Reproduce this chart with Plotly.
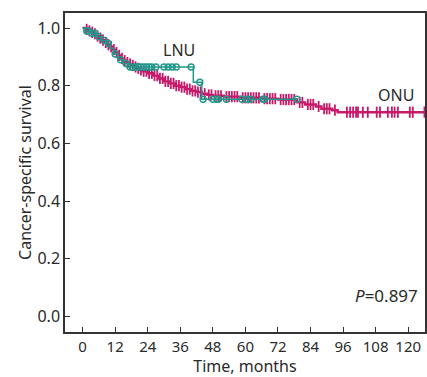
import numpy as np
import plotly.graph_objects as go

# ONU (open nephroureterectomy) step function: event times (months) and survival
onu_times = [0, 1, 2, 3, 4, 5, 6, 7, 8, 9, 10, 11, 12, 13, 14, 15, 16, 17, 18, 19, 20, 21, 22,
             24, 26, 28, 30, 32, 34, 36, 38, 40, 42, 44, 46, 48, 52, 58, 66, 72, 79, 82, 86, 88, 92, 94]
onu_surv = [1.0, 0.995, 0.99, 0.985, 0.98, 0.972, 0.965, 0.958, 0.95, 0.942, 0.935, 0.925, 0.915,
            0.905, 0.895, 0.887, 0.88, 0.875, 0.87, 0.865, 0.86, 0.855, 0.85,
            0.843, 0.835, 0.825, 0.815, 0.808, 0.80, 0.795, 0.788, 0.782, 0.778, 0.772, 0.768, 0.765,
            0.762, 0.758, 0.755, 0.752, 0.742, 0.735, 0.728, 0.72, 0.715, 0.708]
onu_censor = [1.5, 2.5, 3.5, 4.5, 5.5, 6.5, 7.5, 8.5, 9.5, 10.5, 11.5, 12.5, 13.5, 14.5, 15.5,
              16.5, 17.5, 18.5, 19.5, 20.5, 21.5, 22.5, 23.5, 24.5, 25.5, 26.5, 27.5, 28.5, 29.5,
              30.5, 31.5, 32.5, 33.5, 34.5, 35.5, 36.5, 37.5, 38.5, 39.5, 40.5, 41.5, 42.5, 43.5,
              45, 46.5, 47.5, 49, 50, 51, 53, 54, 55, 56, 57, 59, 60, 61, 62, 63, 64, 65, 67, 68,
              69, 70, 71, 73, 74, 75, 76, 77, 78, 80, 81, 83, 84, 85, 87, 89, 90, 91, 93,
              97.4, 98.6, 99.7, 100.8, 101.5, 103.3, 105.1, 108.4, 109.6, 112.5, 114, 115, 116.2,
              120.6, 121.7, 126]
onu_end = 126.5

# LNU (laparoscopic nephroureterectomy)
lnu_times = [0, 1, 3, 5, 7, 9, 10, 11.5, 13, 15, 17, 40.8, 43.9]
lnu_surv = [1.0, 0.99, 0.982, 0.97, 0.957, 0.946, 0.93, 0.91, 0.89, 0.877, 0.865, 0.812, 0.753]
lnu_censor = [1.5, 2, 3.5, 4.5, 6, 8, 9.5, 12, 14, 16, 17.5, 18.5, 19.5, 20.5, 21.5, 22.5, 23.5,
              24.5, 25.5, 27, 30, 31.5, 33, 34.5, 40, 43.2, 44.4, 48, 49.5, 50, 53, 58.7, 60.5,
              62, 66.5, 67, 79]
lnu_end = 79

x_ticks = [0, 12, 24, 36, 48, 60, 72, 84, 96, 108, 120]
y_ticks = [0.0, 0.2, 0.4, 0.6, 0.8, 1.0]

ONU_COLOR = "#C8196A"
LNU_COLOR = "#22978A"
TEXT = "#2a2a2a"


def surv_at(times, surv, t):
    idx = np.searchsorted(np.array(times), t, side="right") - 1
    return np.array(surv)[idx]


fig = go.Figure()

# ONU curve
fig.add_trace(go.Scatter(x=onu_times + [onu_end], y=onu_surv + [onu_surv[-1]], mode="lines",
                         line=dict(color=ONU_COLOR, width=2.4, shape="hv"), showlegend=False))
fig.add_trace(go.Scatter(x=onu_censor, y=surv_at(onu_times, onu_surv, onu_censor), mode="markers",
                         marker=dict(symbol="line-ns", size=8, color=ONU_COLOR,
                                     line=dict(color=ONU_COLOR, width=1.8)),
                         showlegend=False))
# LNU curve
fig.add_trace(go.Scatter(x=lnu_times + [lnu_end], y=lnu_surv + [lnu_surv[-1]], mode="lines",
                         line=dict(color=LNU_COLOR, width=1.5, shape="hv"), showlegend=False))
fig.add_trace(go.Scatter(x=lnu_censor, y=surv_at(lnu_times, lnu_surv, lnu_censor), mode="markers",
                         marker=dict(symbol="circle-open", size=6, color=LNU_COLOR,
                                     line=dict(color=LNU_COLOR, width=1.4)),
                         showlegend=False))

FONT = "Noto Sans"
fig.add_annotation(x=35.5, y=0.925, text="LNU", showarrow=False, font=dict(family=FONT, size=16, color=TEXT))
fig.add_annotation(x=115.5, y=0.768, text="ONU", showarrow=False, font=dict(family=FONT, size=16, color=TEXT))
fig.add_annotation(x=124.5, y=0.073, text="<i>P</i>=0.897", showarrow=False, xanchor="right",
                   font=dict(family=FONT, size=17, color=TEXT))

axis_common = dict(showline=True, linecolor="#333", linewidth=1.5, mirror=True, ticks="inside",
                   ticklen=5, tickcolor="#333", showgrid=False, zeroline=False, automargin=False)
fig.update_xaxes(range=[-6.5, 126.2], tickvals=x_ticks, ticktext=[str(v) for v in x_ticks],
                 tickfont=dict(family=FONT, size=15, color=TEXT),
                 title=dict(text="Time, months", font=dict(family=FONT, size=16, color=TEXT), standoff=0),
                 **axis_common)
fig.update_yaxes(range=[-0.054, 1.052], tickvals=y_ticks, ticktext=[f"{v:.1f}" for v in y_ticks],
                 tickfont=dict(family=FONT, size=16, color=TEXT),
                 title=dict(text="Cancer-specific survival", font=dict(family=FONT, size=16, color=TEXT), standoff=2),
                 **axis_common)

fig.update_layout(width=427, height=377, margin=dict(l=65, r=2, t=13, b=45),
                  plot_bgcolor="white", paper_bgcolor="white")

fig.write_html("out.html", config={"displayModeBar": False},
               post_script="document.body.style.margin='0';")
